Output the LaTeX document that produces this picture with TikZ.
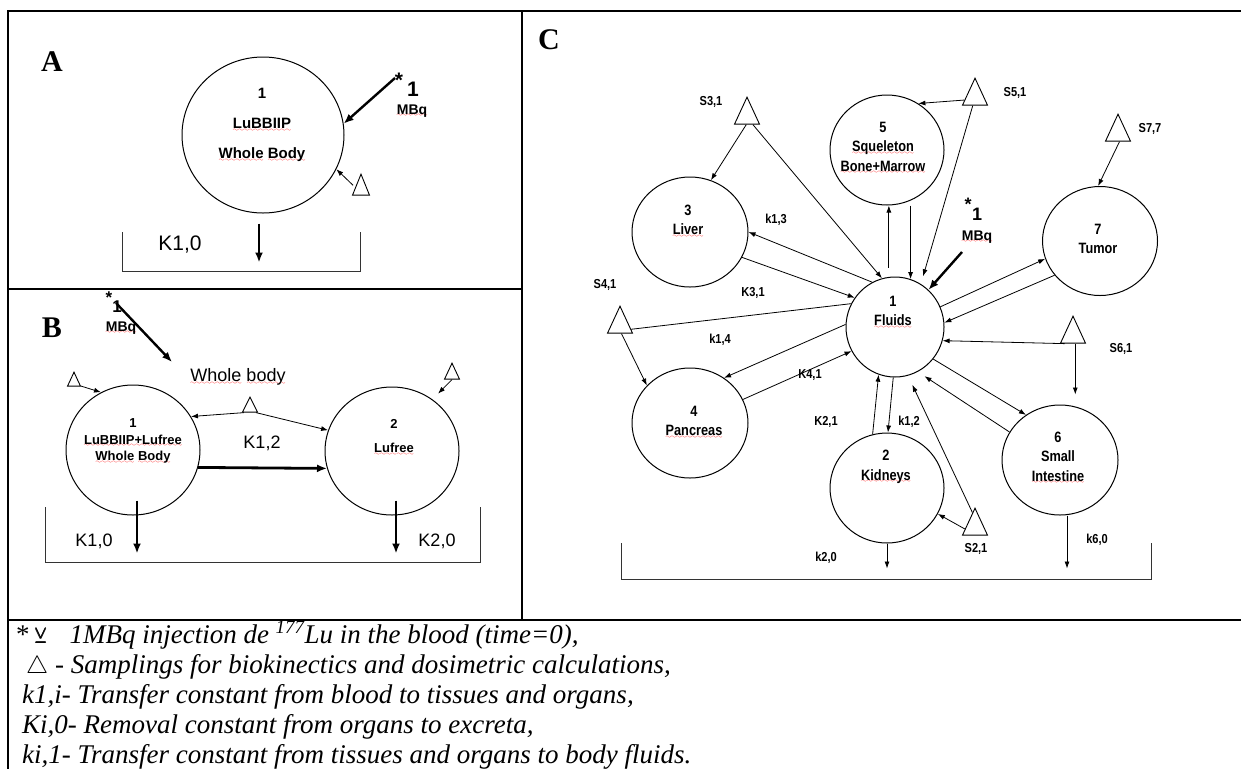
\documentclass[tikz,border=0pt]{standalone}
\usepackage{amsmath,amssymb}
\usepackage{fontspec}
\setmainfont{Liberation Serif}
\newfontfamily\arialf{Liberation Sans}
\newfontfamily\arialn[FakeStretch=0.85]{Liberation Sans}
\usetikzlibrary{arrows.meta,shapes.geometric}

% red spell-check wave under a word
\font\wavefont=lasy6
\newcommand{\wavy}[1]{\setbox0=\hbox{#1}\rlap{\lower2.5pt\hbox to \wd0{\color{red}\xleaders\hbox{\wavefont\char58}\hfill}}\box0\relax}

\begin{document}
\begin{tikzpicture}[x=1pt,y=-1pt,
  comp/.style={draw,ellipse,line width=1pt,inner sep=0pt},
  samp/.style={draw,isosceles triangle,isosceles triangle stretches,shape border rotate=90,line width=0.9pt,inner sep=0pt,anchor=apex},
  flow/.style={-{Latex[length=7pt,width=5pt]},line width=0.8pt},
  inject/.style={-{Latex[length=10pt,width=8pt]},line width=2.4pt},
  tank/.style={line width=1pt,draw=black!80},
  frame/.style={line width=2pt},
  ctA/.style={font=\arialf\bfseries\fontsize{15}{30}\selectfont,align=center,inner sep=0pt},
  ctB/.style={font=\arialf\bfseries\fontsize{13}{16.5}\selectfont,align=center,inner sep=0pt},
  ctC/.style={font=\arialn\bfseries\fontsize{15}{19.5}\selectfont,align=center,inner sep=0pt},
  klab/.style={font=\arialn\bfseries\fontsize{13}{15}\selectfont,inner sep=0pt},
  klabB/.style={font=\arialf\fontsize{18}{20}\selectfont,inner sep=0pt},
  mbq/.style={font=\arialf\bfseries\fontsize{14}{16}\selectfont,inner sep=0pt},
  star/.style={font=\arialf\bfseries\fontsize{18}{20}\selectfont,inner sep=0pt},
  panel/.style={font=\bfseries\fontsize{30}{32}\selectfont,inner sep=0pt},
  legend/.style={font=\fontsize{27}{30}\selectfont,anchor=base west,inner sep=0pt}]
\useasboundingbox (0,0) rectangle (1241,769);

% frame of the three panels and the key
\draw[frame] (1241,11) -- (8,11) -- (8,769);
\draw[frame] (522,11) -- (522,620);
\draw[frame] (8,289) -- (522,289);
\draw[frame] (8,620) -- (1241,620);

% panel A
\node[panel] (labA) at (52,62) {A};
\node[comp,minimum width=162pt,minimum height=156pt] (cA) at (263,135) {};
\node[ctA] (cAtxt) at (262,125) {1\\\wavy{LuBBIIP}\\\wavy{Whole} \wavy{Body}};
\node[samp,minimum width=17pt,minimum height=21pt] (tA) at (361,173) {};
\coordinate (injA) at (395,78);
\node[star,font=\arialf\bfseries\fontsize{21}{22}\selectfont] (astA) at (399,80) {*};
\node[star,font=\arialf\bfseries\fontsize{21}{22}\selectfont] (oneA) at (413,89) {1};
\node[mbq] (mbqA) at (412,111) {\wavy{MBq}};
\draw[inject] (injA) -- (cA.8);
\draw[flow,shorten <=3pt] (tA.160) -- (cA.335);
\draw[tank] (122,232) |- (360,271) -- (360,232);
\draw[inject] ([xshift=-4pt,yshift=-10pt]cA.south) -- ++(0,39);
\node[klabB,font=\arialf\fontsize{21}{22}\selectfont] (k10A) at (180,245) {K1,0};

% panel B
\node[panel] (labB) at (52,328) {B};
\coordinate (injB) at (116,303);
\coordinate (injBend) at (172,362);
\node[star,font=\arialf\bfseries\fontsize{17}{18}\selectfont] (astB) at (109,298) {*};
\node[star,font=\arialf\bfseries\fontsize{17}{18}\selectfont] (oneB) at (117,307) {1};
\node[mbq] (mbqB) at (121,328) {\wavy{MBq}};
\draw[inject] (injB) -- (injBend);
\node[klabB] (wb) at (238,377) {\wavy{Whole} \wavy{body}};
\node[comp,minimum width=134pt,minimum height=130pt] (b1) at (133,450) {};
\node[comp,minimum width=134pt,minimum height=128pt] (b2) at (392,451) {};
\node[ctB] (b1txt) at (133,441) {1\\\wavy{LuBBIIP+Lufree}\\\wavy{Whole} \wavy{Body}};
\node[ctB] (b2txt) at (394,437) {2\\[8pt]\wavy{Lufree}};
\node[samp,minimum width=13pt,minimum height=14pt] (tBl) at (74,371) {};
\node[samp,minimum width=15pt,minimum height=16pt] (tBr) at (452,362) {};
\node[samp,minimum width=15pt,minimum height=15pt] (tBm) at (250,396) {};
\draw[flow] (tBl.-30) -- (b1.119);
\draw[flow,shorten >=8pt] (tBr.-90) -- (b2.52);
\draw[flow] (tBm.-140) -- (b1.30);
\draw[flow] (tBm.-40) -- (b2.162);
\draw[inject,line width=2.8pt] (b1.345) -- (b2.195);
\draw[tank] (45,507) |- (480,562) -- (480,507);
\draw[inject] ([xshift=4pt,yshift=15pt]b1.south) -- ++(0,53);
\draw[inject] ([xshift=4pt,yshift=15pt]b2.south) -- ++(0,53);
\node[klabB] (k12) at (262,443) {K1,2};
\node[klabB] (k10B) at (94,541) {K1,0};
\node[klabB] (k20B) at (437,541) {K2,0};

% panel C
\node[panel] (labC) at (549,40) {C};
\node[comp,minimum width=98pt,minimum height=100pt] (fluids) at (895,327) {};
\node[comp,minimum width=116pt,minimum height=110pt] (liver) at (690,232) {};
\node[comp,minimum width=114pt,minimum height=110pt] (skel) at (887,150) {};
\node[comp,minimum width=115pt,minimum height=109pt] (tumor) at (1100,241) {};
\node[comp,minimum width=116pt,minimum height=110pt] (panc) at (690,423) {};
\node[comp,minimum width=114pt,minimum height=110pt] (kid) at (887,488) {};
\node[comp,minimum width=116pt,minimum height=110pt] (si) at (1060,460) {};
\node[ctC] (fluidstxt) at (893,312) {1\\\wavy{Fluids}};
\node[ctC] (livertxt) at (688,221) {3\\\wavy{Liver}};
\node[ctC] (skeltxt) at (883,148) {5\\\wavy{Squeleton}\\\wavy{Bone+Marrow}};
\node[ctC] (tumortxt) at (1098,239) {7\\Tumor};
\node[ctC] (panctxt) at (694,422) {4\\\wavy{Pancreas}};
\node[ctC] (kidtxt) at (886,467) {2\\\wavy{Kidneys}};
\node[ctC] (sitxt) at (1058,458) {6\\Small\\\wavy{Intestine}};
\node[samp,minimum width=25pt,minimum height=27pt] (s31) at (747,96) {};
\node[samp,minimum width=25pt,minimum height=27pt] (s51) at (975,77) {};
\node[samp,minimum width=25pt,minimum height=27pt] (s77) at (1118,113) {};
\node[samp,minimum width=25pt,minimum height=27pt] (s41) at (620,305) {};
\node[samp,minimum width=25pt,minimum height=27pt] (s61) at (1073,315) {};
\node[samp,minimum width=25pt,minimum height=27pt] (s21) at (975,507) {};
\foreach \nm/\px/\py/\txt in {ls31/711/102/{S3,1},ls51/1015/93/{S5,1},ls77/1150/129/{S7,7},
    ls41/605/285/{S4,1},ls61/1121/349/{S6,1},ls21/976/549/{S2,1},lk13/776/220/{k1,3},
    lk31/753/293/{K3,1},lk14/720/340/{k1,4},lk41/810/375/{K4,1},lk21/826/422/{K2,1},
    lk12/909/422/{k1,2},lk20/826/558/{k2,0},lk60/1097/540/{k6,0}}
  \node[klab] (\nm) at (\px,\py) {\txt};
\coordinate (injC) at (962,252);
\node[star] (astC) at (968,204) {*};
\node[star] (oneC) at (977,214) {1};
\node[mbq] (mbqC) at (977,237) {\wavy{MBq}};
\draw[inject] (injC) -- (fluids.48);
\draw[flow] (s31.-95) -- (liver.68);
\draw[flow] (s31.-55) -- (fluids.105);
\draw[flow] (fluids.117) -- (liver.0);
\draw[flow] (liver.334) -- (fluids.144);
\draw[line width=0.8pt] (s41.-20) -- (fluids.152);
\draw[flow] (s41.-80) -- (panc.139);
\draw[flow] (fluids.177) -- (panc.53);
\draw[flow] (panc.24) -- (fluids.209);
\draw[flow] (kid.105) -- (fluids.251);
\draw[flow] (fluids.268) -- (kid.89);
\draw[flow] (s21.190) -- (kid.333);
\draw[flow,shorten >=10pt] (s21.100) -- (fluids.285);
\draw[flow] (fluids.320) -- (si.127);
\draw[flow,shorten >=8pt] (si.151) -- (fluids.297);
\draw[flow] (s61.-135) -- (fluids.344);
\draw[flow,shorten >=10pt] (s61.-75) -- (s61.-75 |- si.north);
\draw[flow] (fluids.24) -- (tumor.198);
\draw[flow] (tumor.217) -- (fluids.5);
\draw[flow] (s77.-80) -- (tumor.92);
\draw[flow] (s51.195) -- (skel.56);
\draw[flow,shorten >=8pt] (s51.-105) -- (fluids.59);
\draw[flow,shorten <=9pt] (fluids.97) -- (fluids.97 |- skel.south);
\draw[flow] (fluids.72 |- skel.south) -- (fluids.72);
\draw[tank] (621,543) |- (1151,579) -- (1151,543);
\draw[flow] (kid.south) -- ++(0,25);
\draw[flow] ([xshift=7pt]si.south) -- ++(0,53);

% key
\node[legend] (leg1) at (16,643) {*\hspace{5pt}{\fontsize{21}{24}\selectfont\pmb{$\veebar$}}\hspace{22pt}\textit{1MBq injection de \textsuperscript{177}Lu in the blood (time=0),}};
\node[legend] (leg2) at (26,673) {$\bigtriangleup$\ \textit{- Samplings for biokinectics and dosimetric calculations,}};
\node[legend] (leg3) at (22,703) {\textit{k1,i- Transfer constant from blood to tissues and organs,}};
\node[legend] (leg4) at (22,733) {\textit{Ki,0- Removal constant from organs to excreta,}};
\node[legend] (leg5) at (22,763) {\textit{ki,1- Transfer constant from tissues and organs to body fluids.}};
\end{tikzpicture}
\end{document}
